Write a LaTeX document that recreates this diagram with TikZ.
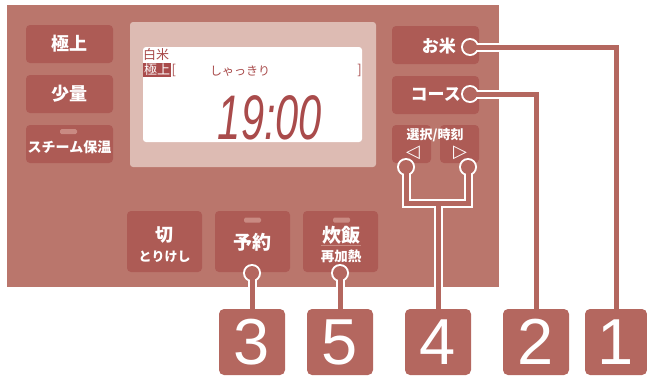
\documentclass[tikz,border=0pt]{standalone}
\usepackage{fontspec}
\newfontfamily\jp{Noto Sans CJK JP}
\newfontfamily\numfont{Liberation Sans}
\newfontfamily\symfont{DejaVu Sans}
\definecolor{panelred}{HTML}{BA766C}
\definecolor{btnred}{HTML}{AD5B55}
\definecolor{framepink}{HTML}{DDBBB3}
\definecolor{lcdred}{HTML}{A94B4B}
\definecolor{boxred}{HTML}{B4675F}
\definecolor{lampred}{HTML}{C98A82}
\tikzset{
  panelbtn/.style={fill=btnred, rounded corners=4pt, inner sep=0pt, text=white, font=\jp\bfseries\fontsize{18}{18}\selectfont},
  btnlabel/.style={inner sep=0pt, text=white, font=\jp\bfseries\fontsize{17}{17}\selectfont},
  smalllabel/.style={inner sep=0pt, text=white, font=\jp\bfseries\fontsize{13}{13}\selectfont},
  lamp/.style={fill=lampred, rounded corners=1.5pt, minimum width=17pt, minimum height=5pt, inner sep=0pt},
  lcdtext/.style={inner sep=0pt, text=lcdred, font=\jp\fontsize{13}{13}\selectfont},
  numbox/.style={fill=boxred, rounded corners=5pt, minimum width=66pt, minimum height=66pt, inner sep=0pt, text=white, font=\numfont\fontsize{65}{65}\selectfont},
  pindot/.style={circle, fill=white, minimum size=18pt, inner sep=0pt},
  wire/.style={draw=boxred, line width=5pt, preaction={draw=white, line width=9pt}},
}
\begin{document}
\begin{tikzpicture}[x=1pt, y=-1pt]
  \useasboundingbox (0,0) rectangle (647,378);
  % panel and display
  \fill[panelred] (7,5) rectangle (499,287);
  \fill[framepink, rounded corners=3pt] (130,22) rectangle (376,167);
  \fill[white, rounded corners=3pt] (143,47) rectangle (362,142);
  \node[lcdtext, anchor=west] (hakumai) at (143,55) {白米};
  \node[lcdtext, fill=lcdred, text=white, inner sep=1pt, anchor=west] (lcdgoku) at (143,70) {極上};
  \node[lcdtext, anchor=west] (lbr) at (lcdgoku.east) {[};
  \node[lcdtext, anchor=east] (rbr) at (362,70) {]};
  \node[lcdtext, font=\jp\fontsize{12}{12}\selectfont] (course) at (240,71) {しゃっきり};
  \node[inner sep=0pt, text=lcdred, xscale=0.66, font=\numfont\itshape\fontsize{63}{63}\selectfont] (clock) at (270,118) {19:00};
  % left buttons
  \node[panelbtn, minimum width=87pt, minimum height=38pt] (gokujo) at (69.5,44) {極上};
  \node[panelbtn, minimum width=87pt, minimum height=38pt] (shoryo) at (69.5,94) {少量};
  \node[panelbtn, minimum width=87pt, minimum height=38pt] (steam) at (69.5,144) {};
  \node[lamp] (steamlamp) at (68.5,131.5) {};
  \node[btnlabel, font=\jp\bfseries\fontsize{14}{14}\selectfont] (steamtxt) at (69.5,147) {スチーム保温};
  % right buttons
  \node[panelbtn, minimum width=87pt, minimum height=38pt] (okome) at (435.5,45) {};
  \node[btnlabel, anchor=east] (okometxt) at (456,46) {お米};
  \node[panelbtn, minimum width=87pt, minimum height=38pt] (kosu) at (435.5,95) {};
  \node[btnlabel, anchor=east] (kosutxt) at (461,95) {コース};
  \node[panelbtn, minimum width=39pt, minimum height=38pt] (selleft) at (411.5,144) {};
  \node[panelbtn, minimum width=39pt, minimum height=38pt] (selright) at (459.5,144) {};
  \node[smalllabel] (seltxt) at (435,135) {選択/時刻};
  \node[inner sep=0pt, text=white, font=\symfont\fontsize{18}{18}\selectfont] (tleft) at (413,153) {◁};
  \node[inner sep=0pt, text=white, font=\symfont\fontsize{18}{18}\selectfont] (tright) at (460,153) {▷};
  % bottom buttons
  \node[panelbtn, minimum width=75pt, minimum height=61pt] (kiri) at (164.5,241.5) {};
  \node[btnlabel, font=\jp\bfseries\fontsize{18}{18}\selectfont] (kiritxt) at (164.5,235) {切};
  \node[smalllabel] (torikeshi) at (164.5,257) {とりけし};
  \node[panelbtn, minimum width=75pt, minimum height=61pt] (yoyaku) at (252.5,241.5) {};
  \node[lamp] (yoyakulamp) at (252.5,220) {};
  \node[btnlabel, font=\jp\bfseries\fontsize{19}{19}\selectfont] (yoyakutxt) at (252.5,242) {予約};
  \node[panelbtn, minimum width=75pt, minimum height=61pt] (suihan) at (340.5,241.5) {};
  \node[lamp] (suihanlamp) at (341.5,220) {};
  \node[btnlabel, font=\jp\bfseries\fontsize{19}{19}\selectfont] (suihantxt) at (341,235) {炊飯};
  \draw[lampred, line width=1.5pt] (321,245.5) -- (361,245.5);
  \node[smalllabel, font=\jp\bfseries\fontsize{13.5}{13.5}\selectfont] (saikanetsu) at (341,256) {再加熱};
  % number boxes
  \node[numbox] (n3) at (252,342) {3};
  \node[numbox] (n5) at (340,342) {5};
  \node[numbox] (n4) at (438,342) {4};
  \node[numbox] (n2) at (536,342) {2};
  \node[numbox, minimum width=62pt] (n1) at (616,342) {1};
  % pins and wires
  \node[pindot] (c1) at (470,47) {};
  \node[pindot] (c2) at (470,94) {};
  \node[pindot] (c4a) at (406,167) {};
  \node[pindot] (c4b) at (468,167) {};
  \node[pindot] (c3) at (252,273) {};
  \node[pindot] (c5) at (340,273) {};
  \coordinate (j4) at (438,203);
  \draw[wire] (c1.center) -| (n1.north);
  \draw[wire] (c2.center) -| (n2.north);
  \draw[wire] (c3.center) -- (n3.north);
  \draw[wire] (c5.center) -- (n5.north);
  \draw[wire] (c4a.center) |- (j4) -| (c4b.center) (j4) -- (n4.north);
  \foreach \c in {c1,c2,c3,c4a,c4b,c5}
    \fill[boxred] (\c.center) circle (7pt);
\end{tikzpicture}
\end{document}
